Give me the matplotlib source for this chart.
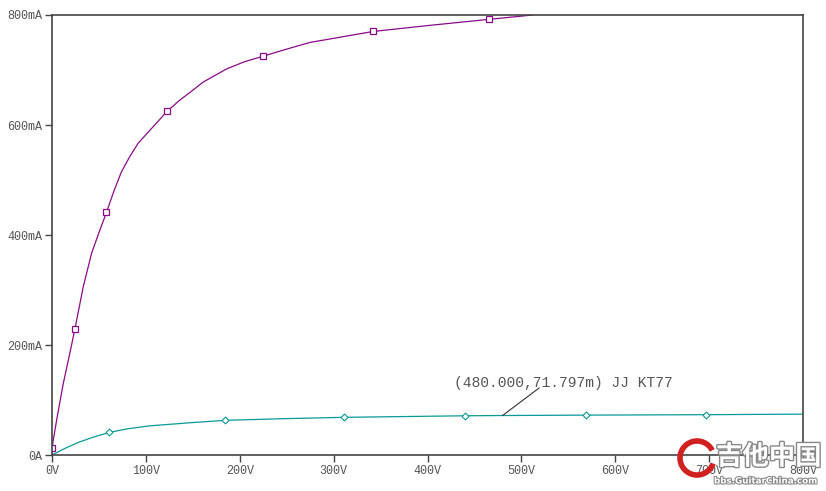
import matplotlib.pyplot as plt
import matplotlib.patheffects as pe
from matplotlib.patches import Arc

# purple trace (V, mA)
v_hi = [0, 0, 5, 12, 19, 24.5, 33.3, 42.2, 51, 58, 66, 74, 83, 91.8, 107.8, 122.7, 136,
        146.8, 161, 186, 205, 224.8, 250, 274.5, 341.8, 398.6, 465, 512]
i_hi = [0, 13, 64, 130, 185, 230, 306, 367, 409, 441, 480, 515, 543, 567, 597, 625, 645,
        659, 678, 702, 715, 725, 738, 750, 770, 780.5, 792, 800]
mk_hi = [1, 5, 9, 15, 21, 24, 26]

# teal trace (V, mA)
v_lo = [0, 15, 29.8, 45, 61, 80, 104, 150, 184, 246, 311, 380, 440, 480, 569, 697, 800]
i_lo = [0, 13, 24, 33, 41, 47.5, 53, 59, 63, 66, 68.5, 70, 71.3, 71.8, 72.5, 73.3, 74.3]
mk_lo = [4, 8, 10, 12, 14, 15]

x_ticks = [0, 100, 200, 300, 400, 500, 600, 700, 800]
x_labels = ["0V", "100V", "200V", "300V", "400V", "500V", "600V", "700V", "800V"]
y_ticks = [0, 200, 400, 600, 800]
y_labels = ["0A", "200mA", "400mA", "600mA", "800mA"]

cursor_v = 480.000
cursor_i = 71.797
cursor_name = "JJ KT77"

purple = "#8a0a8a"
teal = "#0a9a9a"
axcol = "#444444"

fig = plt.figure(figsize=(8.26, 4.91), dpi=100)
ax = fig.add_axes([52 / 826, 36 / 491, 751 / 826, 440 / 491])

ax.plot(v_hi, i_hi, color=purple, lw=0.9)
ax.plot([v_hi[k] for k in mk_hi], [i_hi[k] for k in mk_hi], ls="none", marker="s",
        ms=4.5, mfc="white", mec=purple, mew=0.9)
ax.plot(v_lo, i_lo, color=teal, lw=0.9)
ax.plot([v_lo[k] for k in mk_lo], [i_lo[k] for k in mk_lo], ls="none", marker="D",
        ms=3.5, mfc="white", mec=teal, mew=0.8)

ax.set_xlim(0, 800)
ax.set_ylim(0, 800)
ax.set_xticks(x_ticks)
ax.set_xticklabels(x_labels)
ax.set_yticks(y_ticks)
ax.set_yticklabels(y_labels)
ax.tick_params(direction="out", length=5, width=1, color=axcol, labelcolor="#555555",
               labelsize=8.5, pad=2)
for lab in ax.get_xticklabels() + ax.get_yticklabels():
    lab.set_family("Liberation Mono")
for s in ax.spines.values():
    s.set_color(axcol)
    s.set_linewidth(1.2)

# cursor label
ax.annotate("", xy=(cursor_v, cursor_i), xytext=(519, 122),
            arrowprops=dict(arrowstyle="-", color="#333333", lw=0.8, shrinkA=0, shrinkB=0))
ax.text(428, 131, "(%.3f,%.3fm) %s" % (cursor_v, cursor_i, cursor_name),
        family="Liberation Mono", fontsize=10.5, color="#555555", va="center")

# watermark
fig.patches.append(Arc((697 / 826, 33 / 491), 34 / 826, 34 / 491, theta1=40, theta2=330,
                       transform=fig.transFigure, color="#d02020", lw=4))
fig.text(716 / 826, 34 / 491, "吉他中国", family=["Noto Sans CJK SC", "DejaVu Sans"],
         fontsize=19, fontweight="bold", color="white", va="center",
         path_effects=[pe.withStroke(linewidth=2, foreground="#888888")])
fig.text(714 / 826, 10 / 491, "bbs.GuitarChina.com", family="DejaVu Sans",
         fontsize=6.3, fontweight="bold", color="white", va="center",
         path_effects=[pe.withStroke(linewidth=1.5, foreground="#888888")])

fig.savefig("out.png", dpi=100, facecolor="white")
